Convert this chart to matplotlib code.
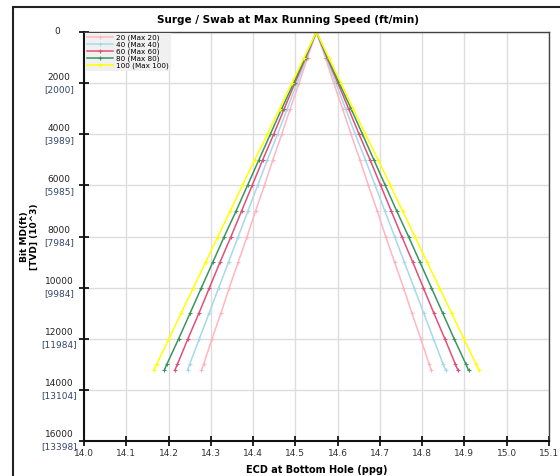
import matplotlib.pyplot as plt
from matplotlib.patches import Rectangle
from matplotlib.transforms import blended_transform_factory

# depth points (ft)
depths = [0, 1000, 2000, 3000, 4000, 5000, 6000, 7000, 8000, 9000, 10000, 11000, 12000, 13000, 13230]

# ECD values (surge = right branch, swab = left branch)
surge_20 = [14.550, 14.571, 14.591, 14.612, 14.632, 14.653, 14.673, 14.694, 14.714, 14.735, 14.756, 14.776, 14.797, 14.817, 14.822]
swab_20 = [14.550, 14.529, 14.509, 14.488, 14.468, 14.447, 14.427, 14.406, 14.386, 14.365, 14.344, 14.324, 14.303, 14.283, 14.278]
surge_40 = [14.550, 14.573, 14.596, 14.619, 14.642, 14.666, 14.689, 14.712, 14.735, 14.758, 14.781, 14.804, 14.827, 14.850, 14.856]
swab_40 = [14.550, 14.527, 14.504, 14.481, 14.458, 14.434, 14.411, 14.388, 14.365, 14.342, 14.319, 14.296, 14.273, 14.250, 14.245]
surge_60 = [14.550, 14.575, 14.601, 14.626, 14.651, 14.677, 14.702, 14.727, 14.752, 14.778, 14.803, 14.828, 14.854, 14.879, 14.885]
swab_60 = [14.550, 14.525, 14.499, 14.474, 14.449, 14.423, 14.398, 14.373, 14.348, 14.322, 14.297, 14.272, 14.246, 14.221, 14.215]
surge_80 = [14.550, 14.577, 14.604, 14.632, 14.659, 14.686, 14.713, 14.740, 14.768, 14.795, 14.822, 14.849, 14.876, 14.904, 14.910]
swab_80 = [14.550, 14.523, 14.496, 14.468, 14.441, 14.414, 14.387, 14.360, 14.332, 14.305, 14.278, 14.251, 14.224, 14.196, 14.190]
surge_100 = [14.550, 14.579, 14.608, 14.637, 14.666, 14.696, 14.725, 14.754, 14.783, 14.812, 14.841, 14.870, 14.899, 14.928, 14.935]
swab_100 = [14.550, 14.521, 14.492, 14.463, 14.434, 14.404, 14.375, 14.346, 14.317, 14.288, 14.259, 14.230, 14.201, 14.172, 14.165]

labels = ['20 (Max 20)', '40 (Max 40)', '60 (Max 60)', '80 (Max 80)', '100 (Max 100)']
surges = [surge_20, surge_40, surge_60, surge_80, surge_100]
swabs = [swab_20, swab_40, swab_60, swab_80, swab_100]
colors = ['#FFB6C1', '#A8D8EA', '#E0507A', '#3A9560', '#FFFF00']

md_ticks = [0, 2000, 4000, 6000, 8000, 10000, 12000, 14000, 16000]
tvd_ticks = ['', '[2000]', '[3989]', '[5985]', '[7984]', '[9984]', '[11984]', '[13104]', '[13398]']
x_ticks = [14.0, 14.1, 14.2, 14.3, 14.4, 14.5, 14.6, 14.7, 14.8, 14.9, 15.0, 15.1]

fig = plt.figure(figsize=(5.6, 4.76), dpi=100)
ax = fig.add_axes([0.15, 0.0735, 0.83, 0.8593])

# outer frame
fig.patches.append(Rectangle((13 / 560, -0.05), 1.1, 1 - 7 / 476 + 0.05, transform=fig.transFigure,
                             fill=False, edgecolor='#222222', linewidth=1.5))

for lab, su, sw, c in zip(labels, surges, swabs, colors):
    ax.plot(su, depths, color=c, lw=1.1, marker='+', ms=3.5, mew=0.8, label=lab)
    ax.plot(sw, depths, color=c, lw=1.1, marker='+', ms=3.5, mew=0.8)

ax.set_xlim(14.0, 15.1)
ax.set_ylim(16000, 0)
ax.set_xticks(x_ticks)
ax.set_xticklabels([f'{v:.1f}' for v in x_ticks], fontsize=6.5, color='#333333')
ax.set_yticks(md_ticks)
ax.set_yticklabels([])
ax.tick_params(direction='inout', length=7, width=1.2, pad=2)

# two-line depth labels: MD above the tick, TVD in brackets below
trans = blended_transform_factory(ax.transAxes, ax.transData)
for v, t in zip(md_ticks, tvd_ticks):
    if t:
        ax.text(-0.054, v - 60, str(v), transform=trans, ha='center', va='bottom',
                fontsize=6.5, color='#222222', clip_on=False)
        ax.text(-0.054, v + 60, t, transform=trans, ha='center', va='top',
                fontsize=6.5, color='#34466A', clip_on=False)
    else:
        ax.text(-0.058, v, str(v), transform=trans, ha='center', va='center',
                fontsize=6.5, color='#222222', clip_on=False)

ax.grid(True, color='#DDDDDD', lw=1)
ax.set_axisbelow(True)
for s in ['left', 'bottom']:
    ax.spines[s].set_linewidth(1.5)
    ax.spines[s].set_color('#111111')
for s in ['top', 'right']:
    ax.spines[s].set_linewidth(1.0)
    ax.spines[s].set_color('#444444')

ax.set_xlabel('ECD at Bottom Hole (ppg)', fontsize=7, fontweight='bold', labelpad=5)
ax.set_ylabel('Bit MD(ft)\n[TVD] (10^3)', fontsize=6.5, fontweight='bold', linespacing=1.0)
ax.yaxis.set_label_coords(-0.098, 0.5)
fig.text(0.515, 0.958, 'Surge / Swab at Max Running Speed (ft/min)', ha='center', va='center',
         fontsize=7.5, fontweight='bold')

leg = ax.legend(loc='upper left', fontsize=5.2, frameon=True, borderaxespad=0.1,
                handlelength=3.6, labelspacing=0.05, borderpad=0.3, handletextpad=0.4)
leg.get_frame().set_facecolor('#F0F0F0')
leg.get_frame().set_edgecolor('none')
leg.get_frame().set_alpha(1)
leg.get_frame().set_boxstyle('square', pad=0)

fig.savefig('out.png', dpi=100)
